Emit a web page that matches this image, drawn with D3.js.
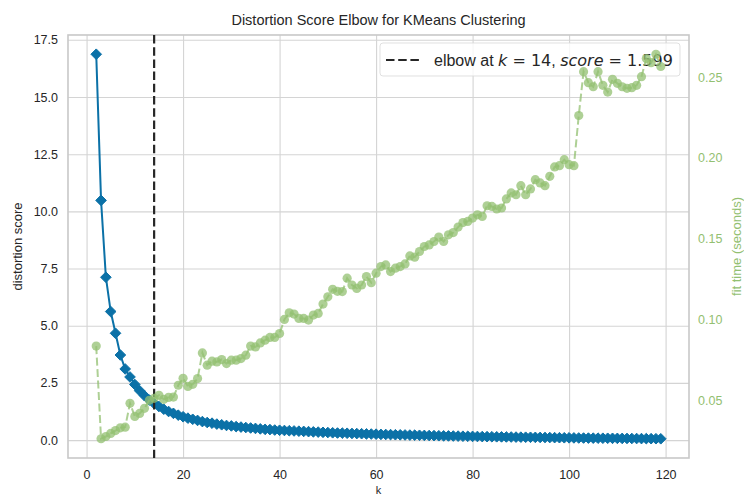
<!DOCTYPE html>
<html><head><meta charset="utf-8">
<script src="https://cdn.jsdelivr.net/npm/d3@7"></script>
<style>body{margin:0;background:#fff}svg{display:block}</style>
</head><body><svg id="c" width="744" height="497"></svg>
<script>
const kValues = [2,3,4,5,6,7,8,9,10,11,12,13,14,15,16,17,18,19,20,21,22,23,24,25,26,27,28,29,30,31,32,33,34,35,36,37,38,39,40,41,42,43,44,45,46,47,48,49,50,51,52,53,54,55,56,57,58,59,60,61,62,63,64,65,66,67,68,69,70,71,72,73,74,75,76,77,78,79,80,81,82,83,84,85,86,87,88,89,90,91,92,93,94,95,96,97,98,99,100,101,102,103,104,105,106,107,108,109,110,111,112,113,114,115,116,117,118,119];
const distortion = [16.87,10.48,7.12,5.62,4.67,3.72,3.11,2.76,2.43,2.16,1.94,1.75,1.599,1.47,1.35,1.25,1.17,1.09,1.02,0.96,0.91,0.86,0.81,0.77,0.74,0.70,0.67,0.64,0.62,0.59,0.57,0.55,0.53,0.51,0.49,0.47,0.46,0.44,0.43,0.42,0.41,0.40,0.39,0.38,0.37,0.36,0.35,0.34,0.33,0.32,0.31,0.305,0.30,0.29,0.285,0.28,0.27,0.265,0.26,0.25,0.245,0.24,0.235,0.23,0.225,0.22,0.215,0.21,0.205,0.20,0.195,0.19,0.186,0.182,0.178,0.174,0.17,0.166,0.162,0.158,0.154,0.15,0.147,0.144,0.141,0.138,0.135,0.132,0.129,0.126,0.123,0.12,0.117,0.114,0.111,0.108,0.105,0.102,0.099,0.096,0.093,0.09,0.088,0.086,0.084,0.082,0.08,0.078,0.076,0.074,0.072,0.07,0.068,0.066,0.064,0.062,0.06,0.058];
const fitTime = [0.0836,0.0263,0.0277,0.0296,0.0314,0.0331,0.0335,0.0482,0.0401,0.0420,0.0451,0.0501,0.0513,0.0532,0.0507,0.0519,0.0521,0.0594,0.0637,0.0587,0.0600,0.0635,0.0794,0.0718,0.0743,0.0738,0.0753,0.0728,0.0749,0.0749,0.0759,0.0780,0.0836,0.0831,0.0856,0.0873,0.0890,0.0890,0.0914,0.1001,0.1042,0.1034,0.1007,0.1007,0.0997,0.1028,0.1038,0.1096,0.1141,0.1187,0.1175,0.1173,0.1256,0.1214,0.1193,0.1214,0.1266,0.1228,0.1287,0.1328,0.1338,0.1297,0.1318,0.1328,0.1344,0.1394,0.1386,0.1421,0.1452,0.1462,0.1483,0.1510,0.1483,0.1524,0.1538,0.1572,0.1600,0.1607,0.1628,0.1648,0.1638,0.1704,0.1700,0.1684,0.1690,0.1746,0.1783,0.1772,0.1828,0.1772,0.1808,0.1865,0.1845,0.1828,0.1886,0.1944,0.1952,0.1989,0.1958,0.1952,0.2262,0.2533,0.2465,0.2440,0.2533,0.2449,0.2407,0.2486,0.2461,0.2440,0.2430,0.2434,0.2449,0.2502,0.2614,0.2589,0.2641,0.2565];
const xTicks = [0,20,40,60,80,100,120];
const leftTicks = [0,2.5,5,7.5,10,12.5,15,17.5];
const rightTicks = [0.05,0.10,0.15,0.20,0.25];
const elbowK = 14;
const elbowScore = 1.599;
const titleText = "Distortion Score Elbow for KMeans Clustering";
const xLabel = "k", yLabel = "distortion score", y2Label = "fit time (seconds)";

const L = 68, R = 689, T = 35, B = 458;
const BLUE = "#0b71a7", GREEN = "#93c071", TXT = "#262626", GRID = "#d4d4d4";
const SANS = "'Liberation Sans', Arial, sans-serif";
const DV = "'DejaVu Sans', sans-serif";

function padded(a, b) { const r = b - a; return [a - 0.05 * r, b + 0.05 * r]; }
const x = d3.scaleLinear().domain(padded(d3.min(kValues), d3.max(kValues))).range([L, R]);
const yL = d3.scaleLinear().domain(padded(d3.min(distortion), d3.max(distortion))).range([B, T]);
const yR = d3.scaleLinear().domain(padded(d3.min(fitTime), d3.max(fitTime))).range([B, T]);

const svg = d3.select("#c");
svg.append("rect").attr("width", 744).attr("height", 497).attr("fill", "#fff");

// grid
const gxg = svg.append("g").attr("transform", `translate(0,${B})`)
  .call(d3.axisBottom(x).tickValues(xTicks).tickSize(-(B - T)).tickFormat(""));
const gyg = svg.append("g").attr("transform", `translate(${L},0)`)
  .call(d3.axisLeft(yL).tickValues(leftTicks).tickSize(-(R - L)).tickFormat(""));
[gxg, gyg].forEach(g => { g.select(".domain").remove(); g.selectAll("line").attr("stroke", GRID).attr("stroke-width", 1.1); });

// spines
svg.append("rect").attr("x", L).attr("y", T).attr("width", R - L).attr("height", B - T)
  .attr("fill", "none").attr("stroke", "#c8c8c8").attr("stroke-width", 1.6);

// axes labels
const ax = svg.append("g").attr("transform", `translate(0,${B})`)
  .call(d3.axisBottom(x).tickValues(xTicks).tickSize(0).tickPadding(12));
const ayl = svg.append("g").attr("transform", `translate(${L},0)`)
  .call(d3.axisLeft(yL).tickValues(leftTicks).tickFormat(d3.format(".1f")).tickSize(0).tickPadding(10));
const ayr = svg.append("g").attr("transform", `translate(${R},0)`)
  .call(d3.axisRight(yR).tickValues(rightTicks).tickFormat(d3.format(".2f")).tickSize(0).tickPadding(9));
[ax, ayl, ayr].forEach(g => { g.select(".domain").remove(); g.selectAll("text").attr("font-family", SANS).attr("font-size", 12.5).attr("fill", TXT); });
ayr.selectAll("text").attr("fill", GREEN);

// blue distortion line
const pts = kValues.map((k, i) => [k, distortion[i]]);
svg.append("path").datum(pts).attr("fill", "none").attr("stroke", BLUE).attr("stroke-width", 2)
  .attr("d", d3.line().x(d => x(d[0])).y(d => yL(d[1])));
const dsym = d3.symbol().type(d3.symbolDiamond2).size(72);
svg.append("g").selectAll("path").data(pts).join("path")
  .attr("transform", d => `translate(${x(d[0])},${yL(d[1])})`)
  .attr("d", dsym).attr("fill", BLUE).attr("stroke", BLUE).attr("stroke-width", 1);

// elbow line
svg.append("line").attr("x1", x(elbowK)).attr("x2", x(elbowK)).attr("y1", T).attr("y2", B)
  .attr("stroke", TXT).attr("stroke-width", 2.2).attr("stroke-dasharray", "8.5,3.7");

// legend
const lg = svg.append("g");
lg.append("rect").attr("x", 380).attr("y", 43).attr("width", 300).attr("height", 33).attr("rx", 3)
  .attr("fill", "#fff").attr("fill-opacity", 0.8).attr("stroke", "#d8d8d8").attr("stroke-opacity", 0.8);
lg.append("line").attr("x1", 386).attr("x2", 421).attr("y1", 60).attr("y2", 60)
  .attr("stroke", TXT).attr("stroke-width", 2.2).attr("stroke-dasharray", "8.5,3.7");
const lt = lg.append("text").attr("x", 434).attr("y", 66).attr("font-size", 16).attr("fill", TXT);
lt.append("tspan").attr("font-family", SANS).text("elbow at ");
lt.append("tspan").attr("font-family", DV).attr("font-style", "italic").text("k");
lt.append("tspan").attr("font-family", DV).attr("xml:space", "preserve").text(" = " + elbowK);
lt.append("tspan").attr("font-family", SANS).attr("xml:space", "preserve").text(", ");
lt.append("tspan").attr("font-family", DV).attr("font-style", "italic").text("score");
lt.append("tspan").attr("font-family", DV).attr("xml:space", "preserve").text(" = " + elbowScore);
lt.attr("style", "white-space:pre");

// green fit time
const tpts = kValues.map((k, i) => [k, fitTime[i]]);
svg.append("path").datum(tpts).attr("fill", "none").attr("stroke", GREEN).attr("stroke-opacity", 0.75)
  .attr("stroke-width", 2).attr("stroke-dasharray", "8,3.5")
  .attr("d", d3.line().x(d => x(d[0])).y(d => yR(d[1])));
svg.append("g").selectAll("circle").data(tpts).join("circle")
  .attr("cx", d => x(d[0])).attr("cy", d => yR(d[1])).attr("r", 4.6)
  .attr("fill", GREEN).attr("fill-opacity", 0.75);

// titles
svg.append("text").attr("x", (L + R) / 2).attr("y", 25).attr("text-anchor", "middle")
  .attr("font-family", SANS).attr("font-size", 14.5).attr("fill", TXT).text(titleText);
svg.append("text").attr("x", (L + R) / 2).attr("y", 494).attr("text-anchor", "middle")
  .attr("font-family", SANS).attr("font-size", 11).attr("fill", TXT).text(xLabel);
svg.append("text").attr("transform", `translate(22,${(T + B) / 2}) rotate(-90)`).attr("text-anchor", "middle")
  .attr("font-family", SANS).attr("font-size", 13).attr("fill", TXT).text(yLabel);
svg.append("text").attr("transform", `translate(741,${(T + B) / 2}) rotate(-90)`).attr("text-anchor", "middle")
  .attr("font-family", SANS).attr("font-size", 13).attr("fill", GREEN).text(y2Label);
</script></body></html>
